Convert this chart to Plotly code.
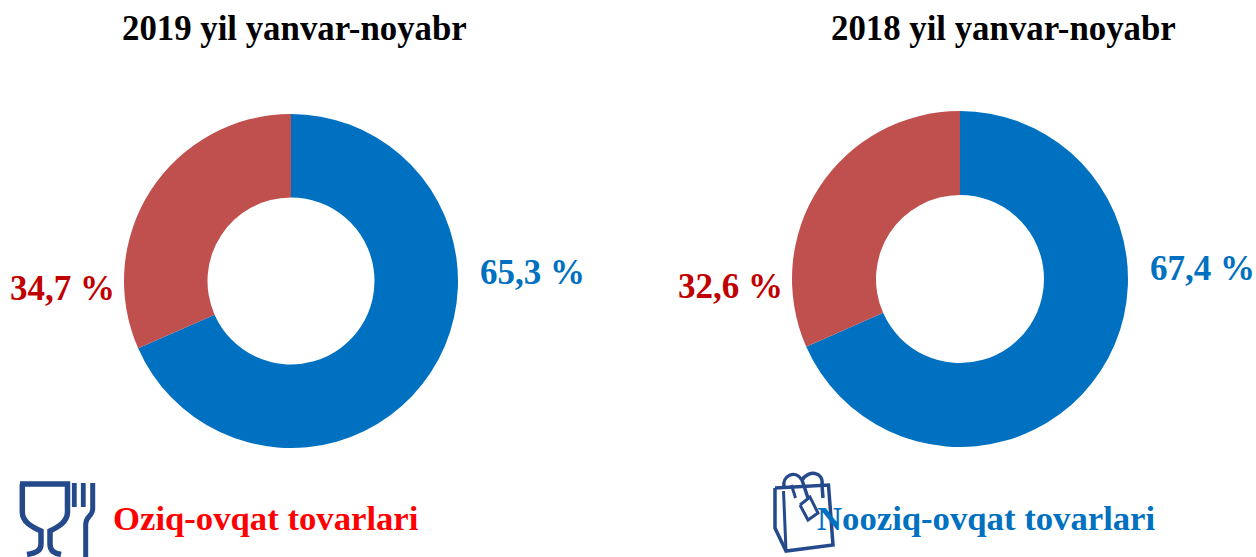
import plotly.graph_objects as go

W, H = 1256, 557
categories = ["Oziq-ovqat tovarlari", "Nooziq-ovqat tovarlari"]
titles = ["2019 yil yanvar-noyabr", "2018 yil yanvar-noyabr"]
# slice sizes as drawn in the picture (the printed labels differ slightly from the drawn angles)
values_2019 = [68.4, 31.6]
values_2018 = [68.4, 31.6]
labels_2019 = ["65,3 %", "34,7 %"]
labels_2018 = ["67,4 %", "32,6 %"]
BLUE, BRICK, DARKRED, RED, NAVY = "#0070C0", "#C0504D", "#C00000", "#FF0000", "#254A8C"
FONT = "Liberation Serif"


def px(x): return x / W
def py(y): return 1 - y / H


def path(cmds):
    out = []
    for c in cmds:
        if isinstance(c, str):
            out.append(c)
        else:
            out.append(f"{px(c[0]):.5f},{py(c[1]):.5f}")
    return " ".join(out)


def stroke(cmds, width):
    return dict(type="path", xref="paper", yref="paper", path=path(cmds),
                line=dict(color=NAVY, width=width), fillcolor="rgba(0,0,0,0)")


def txt(x, y, s, size, color):
    return dict(x=px(x), y=py(y), xref="paper", yref="paper", text=f"<b>{s}</b>", showarrow=False,
                xanchor="center", yanchor="middle", font=dict(family=FONT, size=size, color=color))


fig = go.Figure()
fig.add_trace(go.Pie(labels=categories, values=values_2019, hole=0.5, sort=False, direction="clockwise",
                     rotation=0, textinfo="none", hoverinfo="label+percent",
                     marker=dict(colors=[BLUE, BRICK], line=dict(width=0)),
                     domain=dict(x=[px(124), px(458)], y=[py(448), py(114)])))
fig.add_trace(go.Pie(labels=categories, values=values_2018, hole=0.5, sort=False, direction="clockwise",
                     rotation=0, textinfo="none", hoverinfo="label+percent",
                     marker=dict(colors=[BLUE, BRICK], line=dict(width=0)),
                     domain=dict(x=[px(792), px(1128)], y=[py(447), py(111)])))

shapes = [
    # glass
    stroke(["M", (20, 484), "L", (67.5, 484), "L", (67.5, 512), "C", (67.5, 522), (58, 527), (50, 531),
            "L", (50, 544), "C", (50, 551), (54, 553), (61, 554.5)], 5.5),
    stroke(["M", (22.3, 484), "L", (22.3, 512), "C", (22.3, 522), (32, 527), (41, 531),
            "L", (41, 544), "C", (41, 551), (36, 553), (27, 554.5)], 5.5),
    # fork
    stroke(["M", (74.3, 483), "L", (74.3, 507)], 4.8),
    stroke(["M", (83.3, 483), "L", (83.3, 507)], 4.8),
    stroke(["M", (92.7, 483), "L", (92.7, 509), "C", (92.7, 516), (86, 516), (85.7, 524), "L", (85.7, 557)], 5),
    # bag body
    stroke(["M", (775, 488), "L", (828.5, 485), "L", (833, 545), "L", (786, 551), "L", (775, 528), "L", (775, 488)], 3.5),
    stroke(["M", (783.5, 491), "L", (786, 551)], 3),
    # handles
    stroke(["M", (784, 487), "C", (782, 476), (795, 469), (802, 480), "L", (808, 498)], 3.5),
    stroke(["M", (802, 480), "C", (808, 470), (824, 471), (822, 485), "L", (823, 498)], 3.5),
    stroke(["M", (791.5, 485), "L", (795.5, 498)], 3),
    # tag
    stroke(["M", (800, 505), "L", (810, 497), "L", (818, 513), "L", (808, 520), "L", (800, 505)], 3),
]

annotations = [
    txt(294, 29, titles[0], 34.8, "#000000"),
    txt(1003, 29, titles[1], 34.8, "#000000"),
    txt(532.5, 272, labels_2019[0], 35, BLUE),
    txt(62.5, 288, labels_2019[1], 35, DARKRED),
    txt(1202.5, 268, labels_2018[0], 35, BLUE),
    txt(730.5, 286, labels_2018[1], 35, DARKRED),
    txt(265.5, 518, categories[0], 34.7, RED),
    txt(986.5, 518, categories[1], 34.7, BLUE),
]

fig.update_layout(width=W, height=H, margin=dict(l=0, r=0, t=0, b=0), showlegend=False,
                  paper_bgcolor="white", plot_bgcolor="white", shapes=shapes, annotations=annotations,
                  font=dict(family=FONT))
fig.write_html("out.html", config=dict(displayModeBar=False),
               post_script="document.body.style.margin='0';document.body.style.overflow='hidden';")
